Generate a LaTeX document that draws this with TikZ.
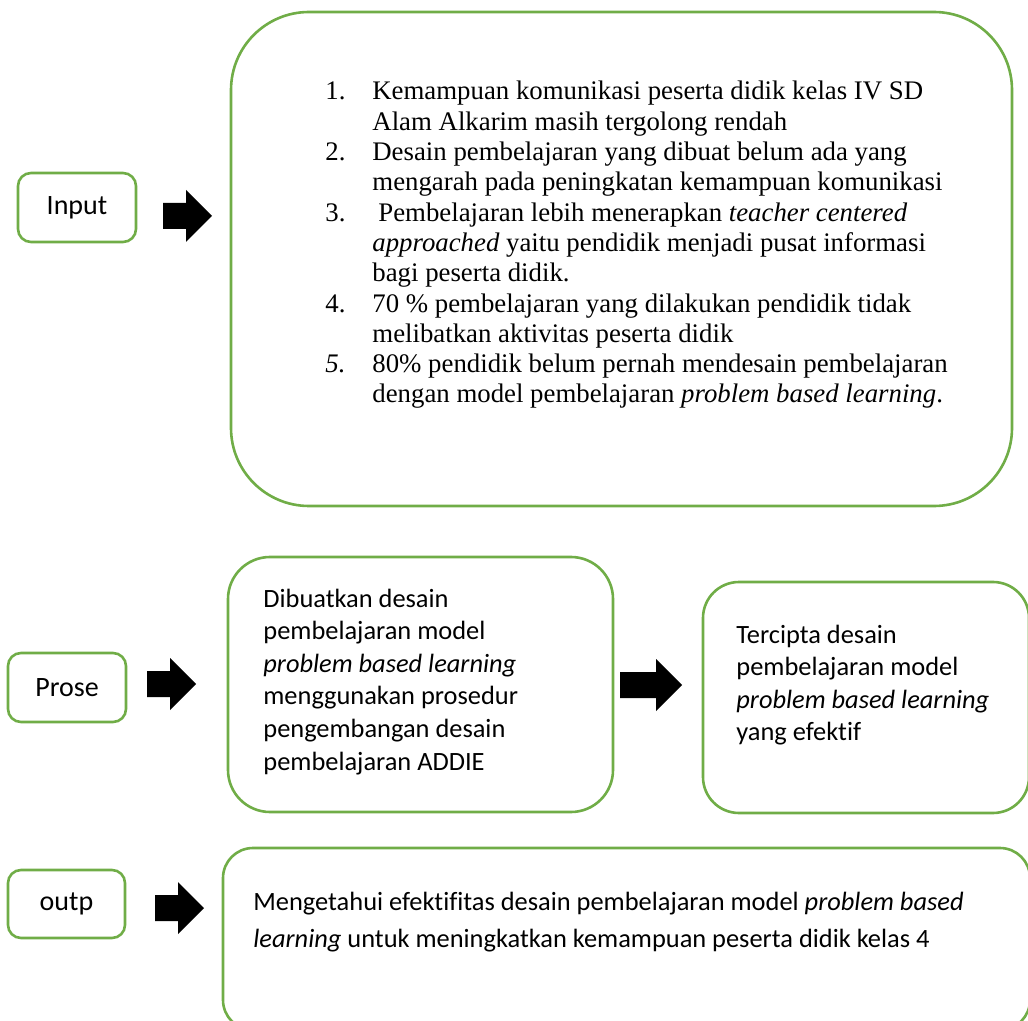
\documentclass[tikz,border=0pt]{standalone}
\usepackage{fontspec}
\setmainfont{Carlito}[Ligatures=NoCommon]
\newfontfamily\timesf{Liberation Serif}
\definecolor{boxgreen}{HTML}{70AD47}
\tikzset{
  gbox/.style={draw=boxgreen, line width=1.3pt},
  lbl/.style={gbox, rounded corners=6.5pt, minimum width=59pt, minimum height=34.5pt, inner sep=0pt, font=\fontsize{14}{17}\selectfont},
  body/.style={anchor=base west, inner sep=0pt, font=\fontsize{13.2}{16.3}\selectfont},
  listtext/.style={anchor=base west, inner sep=0pt, font=\timesf\fontsize{13.4}{15.15}\selectfont},
  pics/blockarr/.style={code={\fill[black] (0,-13) -- (#1,-13) -- (#1,-26) -- ({#1+26},0) -- (#1,26) -- (#1,13) -- (0,13) -- cycle;}}
}
\begin{document}
\begin{tikzpicture}[x=0.5pt,y=-0.5pt]
\useasboundingbox (0,0) rectangle (1028,1021);
\clip (0,0) rectangle (1028,1021);

% row 1
\draw[gbox, rounded corners=6.5pt] (18,173) rectangle (136,242);
\node[inner sep=0pt, anchor=base, font=\fontsize{14}{17}\selectfont] (input) at (77,215) {Input};
\pic at (163,216) {blockarr=23};
\draw[gbox, rounded corners=39pt] (231,12) rectangle (1012,506);
\node[listtext] (list) at (325,100) {\begin{tabular}[t]{@{}p{23.5pt}@{}l@{}}
1. & Kemampuan komunikasi peserta didik kelas IV SD\\
   & Alam Alkarim masih tergolong rendah\\
2. & Desain pembelajaran yang dibuat belum ada yang\\
   & mengarah pada peningkatan kemampuan komunikasi\\
3. & \hspace{3pt}Pembelajaran lebih menerapkan \textit{teacher centered}\\
   & \textit{approached} yaitu pendidik menjadi pusat informasi\\
   & bagi peserta didik.\\
4. & 70 \% pembelajaran yang dilakukan pendidik tidak\\
   & melibatkan aktivitas peserta didik\\
\textit{5.} & 80\% pendidik belum pernah mendesain pembelajaran\\
   & dengan model pembelajaran \textit{problem based learning}.
\end{tabular}};

% row 2
\draw[gbox, rounded corners=6.5pt] (8,653) rectangle (126,722);
\node[inner sep=0pt, anchor=base, font=\fontsize{14}{17}\selectfont] (prose) at (67,696) {Prose};
\pic at (147,684) {blockarr=23};
\draw[gbox, rounded corners=21pt] (228,557) rectangle (613,812);
\node[body] (proc) at (263,607) {\begin{tabular}[t]{@{}l@{}}
Dibuatkan desain\\
pembelajaran model\\
\textit{problem based learning}\\
menggunakan prosedur\\
pengembangan desain\\
pembelajaran ADDIE
\end{tabular}};
\pic at (620,685) {blockarr=36};
\draw[gbox, rounded corners=18pt] (703,582) rectangle (1029,813);
\node[body] (result) at (736,643) {\begin{tabular}[t]{@{}l@{}}
Tercipta desain\\
pembelajaran model\\
\textit{problem based learning}\\
yang efektif
\end{tabular}};

% row 3
\draw[gbox, rounded corners=6.5pt] (8,870) rectangle (125,938);
\node[inner sep=0pt, anchor=base, font=\fontsize{14}{17}\selectfont] (outp) at (66.5,910) {outp};
\pic at (155,908) {blockarr=23};
\draw[gbox, rounded corners=15pt] (223,848) rectangle (1030,1030);
\node[body, font=\fontsize{13.2}{18.5}\selectfont] (out) at (253,910) {\begin{tabular}[t]{@{}l@{}}
Mengetahui efektifitas desain pembelajaran model \textit{problem based}\\
\textit{learning} untuk meningkatkan kemampuan peserta didik kelas 4
\end{tabular}};
\end{tikzpicture}
\end{document}
